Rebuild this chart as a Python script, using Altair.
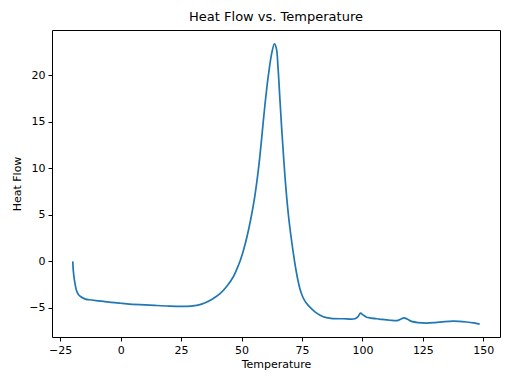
import altair as alt
import pandas as pd

temperature = [
    -19.8, -19.6, -19.1, -18.3, -17.5, -16.6, -14.6, -12, -8, -4, 0, 2.6, 8, 14, 20, 25,
    29, 32, 35, 38, 41.2, 44, 46.6, 48.0, 49.4, 50.8, 52.2, 53.7, 55.3, 56.5, 57.5,
    58.6, 59.7, 60.6, 61.4, 62.5, 63.6, 64.4, 65.1, 65.9, 66.6, 67.4, 68.0, 68.7,
    69.5, 70.3, 71.3, 72.5, 73.3, 74.2, 75.2, 76.3, 77.5, 78.8, 80.5, 83.8, 87, 92,
    96.9, 98.3, 99.2, 100.2, 101.7, 103, 107, 111.4, 114.5, 116, 117.2, 118.5, 120.3,
    123, 126.5, 130, 134, 137.4, 140, 143, 146, 148.5,
]
heat_flow = [
    0.0, -0.97, -2.05, -3.1, -3.55, -3.77, -4.06, -4.15, -4.28, -4.4, -4.5, -4.56,
    -4.65, -4.73, -4.8, -4.83, -4.8, -4.7, -4.45, -4.05, -3.45, -2.65, -1.65, -0.85, 0.05,
    1.2, 2.6, 4.4, 6.7, 8.9, 11.1, 14.0, 16.9, 19.0, 20.6, 22.4, 23.4, 22.9, 20.8,
    17.3, 14.3, 11.2, 9.0, 6.8, 4.7, 3.0, 1.1, -0.9, -2.0, -3.0, -3.75, -4.3, -4.7,
    -5.05, -5.45, -5.95, -6.12, -6.17, -6.17, -5.9, -5.57, -5.75, -6.0, -6.07, -6.2,
    -6.33, -6.36, -6.2, -6.07, -6.2, -6.45, -6.58, -6.63, -6.58, -6.48, -6.43, -6.45,
    -6.52, -6.62, -6.75,
]
x_ticks = [-25, 0, 25, 50, 75, 100, 125, 150]
y_ticks = [-5, 0, 5, 10, 15, 20]

df = pd.DataFrame({"Temperature": temperature, "Heat Flow": heat_flow})

font = "DejaVu Sans"
axis_common = dict(
    domain=True,
    domainColor="black",
    domainWidth=1,
    grid=False,
    ticks=True,
    tickColor="black",
    tickSize=4,
    tickWidth=1,
    labelFont=font,
    labelFontSize=11,
    labelColor="black",
    labelPadding=3,
    titleFont=font,
    titleFontSize=11,
    titleFontWeight="normal",
    titleColor="black",
)
frame_axis = dict(
    domain=True, domainColor="black", domainWidth=1, grid=False,
    ticks=False, labels=False, title=None,
)

x_scale = alt.Scale(domain=[-28.4, 156.9], nice=False, zero=False)
y_scale = alt.Scale(domain=[-8.13, 24.88], nice=False, zero=False)

line = (
    alt.Chart(df)
    .mark_line(color="#1f77b4", strokeWidth=1.7, interpolate="catmull-rom")
    .encode(
        x=alt.X(
            "Temperature:Q", scale=x_scale,
            axis=alt.Axis(values=x_ticks, title="Temperature", titlePadding=3, **axis_common),
        ),
        y=alt.Y(
            "Heat Flow:Q", scale=y_scale,
            axis=alt.Axis(values=y_ticks, title="Heat Flow", titlePadding=6, **axis_common),
        ),
    )
)

frame = (
    alt.Chart(df)
    .mark_line(opacity=0)
    .encode(
        x=alt.X("Temperature:Q", scale=x_scale, axis=alt.Axis(orient="top", **frame_axis)),
        y=alt.Y("Heat Flow:Q", scale=y_scale, axis=alt.Axis(orient="right", **frame_axis)),
    )
)

chart = (
    alt.layer(line, frame)
    .resolve_axis(x="independent", y="independent")
    .properties(
        width=448,
        height=307,
        title=alt.TitleParams(
            "Heat Flow vs. Temperature",
            font=font,
            fontSize=13,
            fontWeight="normal",
            color="black",
            offset=6,
        ),
        autosize=alt.AutoSizeParams(type="none"),
        padding={"left": 44, "top": 22, "right": 4, "bottom": 38},
    )
    .configure_view(stroke=None)
    .configure(background="white")
)

chart.save("out.html", embed_options={"renderer": "svg", "actions": False})
